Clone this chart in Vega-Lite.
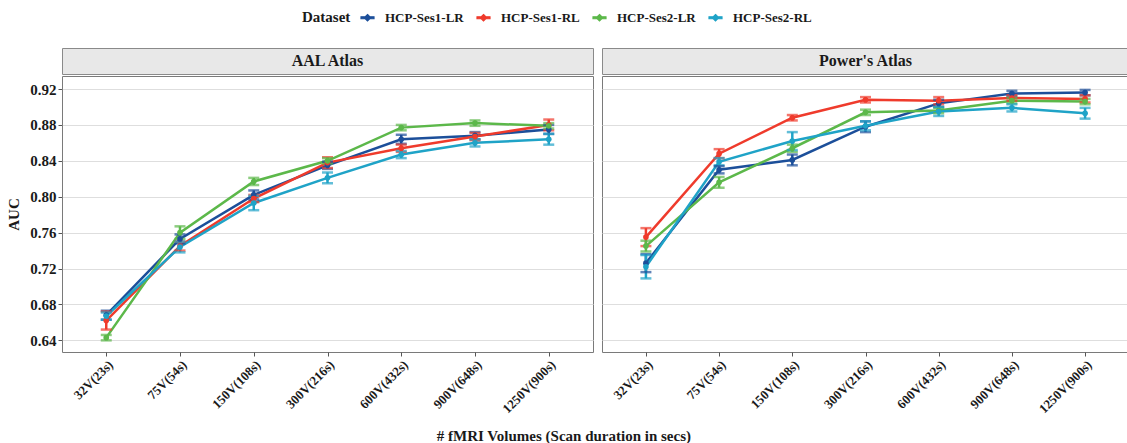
{
  "$schema": "https://vega.github.io/schema/vega-lite/v6.json",
  "background": "white",
  "padding": {"left": 6, "top": 10, "right": 0, "bottom": 0},
  "config": {
    "font": "Liberation Serif",
    "view": {"stroke": null},
    "axis": {
      "labelFont": "Liberation Serif",
      "labelFontWeight": "bold",
      "labelColor": "#1a1a1a",
      "titleFont": "Liberation Serif",
      "titleFontWeight": "bold",
      "titleColor": "#1a1a1a",
      "tickColor": "#555555",
      "tickSize": 4,
      "gridColor": "#dedede",
      "gridWidth": 1.2,
      "domain": false
    },
    "legend": {
      "labelFont": "Liberation Serif",
      "titleFont": "Liberation Serif"
    }
  },
  "datasets": {
    "auc": [
      {"atlas": "AAL Atlas", "volume": "32V(23s)", "dataset": "HCP-Ses1-LR", "auc": 0.668, "lo": 0.663, "hi": 0.673},
      {"atlas": "AAL Atlas", "volume": "32V(23s)", "dataset": "HCP-Ses1-RL", "auc": 0.662, "lo": 0.652, "hi": 0.672},
      {"atlas": "AAL Atlas", "volume": "32V(23s)", "dataset": "HCP-Ses2-LR", "auc": 0.643, "lo": 0.640, "hi": 0.646},
      {"atlas": "AAL Atlas", "volume": "32V(23s)", "dataset": "HCP-Ses2-RL", "auc": 0.667, "lo": 0.663, "hi": 0.671},
      {"atlas": "AAL Atlas", "volume": "75V(54s)", "dataset": "HCP-Ses1-LR", "auc": 0.753, "lo": 0.748, "hi": 0.758},
      {"atlas": "AAL Atlas", "volume": "75V(54s)", "dataset": "HCP-Ses1-RL", "auc": 0.745, "lo": 0.740, "hi": 0.750},
      {"atlas": "AAL Atlas", "volume": "75V(54s)", "dataset": "HCP-Ses2-LR", "auc": 0.760, "lo": 0.753, "hi": 0.767},
      {"atlas": "AAL Atlas", "volume": "75V(54s)", "dataset": "HCP-Ses2-RL", "auc": 0.744, "lo": 0.738, "hi": 0.750},
      {"atlas": "AAL Atlas", "volume": "150V(108s)", "dataset": "HCP-Ses1-LR", "auc": 0.802, "lo": 0.797, "hi": 0.807},
      {"atlas": "AAL Atlas", "volume": "150V(108s)", "dataset": "HCP-Ses1-RL", "auc": 0.798, "lo": 0.794, "hi": 0.802},
      {"atlas": "AAL Atlas", "volume": "150V(108s)", "dataset": "HCP-Ses2-LR", "auc": 0.817, "lo": 0.813, "hi": 0.821},
      {"atlas": "AAL Atlas", "volume": "150V(108s)", "dataset": "HCP-Ses2-RL", "auc": 0.793, "lo": 0.785, "hi": 0.801},
      {"atlas": "AAL Atlas", "volume": "300V(216s)", "dataset": "HCP-Ses1-LR", "auc": 0.835, "lo": 0.831, "hi": 0.839},
      {"atlas": "AAL Atlas", "volume": "300V(216s)", "dataset": "HCP-Ses1-RL", "auc": 0.838, "lo": 0.832, "hi": 0.844},
      {"atlas": "AAL Atlas", "volume": "300V(216s)", "dataset": "HCP-Ses2-LR", "auc": 0.840, "lo": 0.837, "hi": 0.843},
      {"atlas": "AAL Atlas", "volume": "300V(216s)", "dataset": "HCP-Ses2-RL", "auc": 0.821, "lo": 0.815, "hi": 0.827},
      {"atlas": "AAL Atlas", "volume": "600V(432s)", "dataset": "HCP-Ses1-LR", "auc": 0.864, "lo": 0.859, "hi": 0.869},
      {"atlas": "AAL Atlas", "volume": "600V(432s)", "dataset": "HCP-Ses1-RL", "auc": 0.854, "lo": 0.850, "hi": 0.858},
      {"atlas": "AAL Atlas", "volume": "600V(432s)", "dataset": "HCP-Ses2-LR", "auc": 0.877, "lo": 0.874, "hi": 0.880},
      {"atlas": "AAL Atlas", "volume": "600V(432s)", "dataset": "HCP-Ses2-RL", "auc": 0.847, "lo": 0.843, "hi": 0.851},
      {"atlas": "AAL Atlas", "volume": "900V(648s)", "dataset": "HCP-Ses1-LR", "auc": 0.868, "lo": 0.864, "hi": 0.872},
      {"atlas": "AAL Atlas", "volume": "900V(648s)", "dataset": "HCP-Ses1-RL", "auc": 0.867, "lo": 0.863, "hi": 0.871},
      {"atlas": "AAL Atlas", "volume": "900V(648s)", "dataset": "HCP-Ses2-LR", "auc": 0.882, "lo": 0.879, "hi": 0.885},
      {"atlas": "AAL Atlas", "volume": "900V(648s)", "dataset": "HCP-Ses2-RL", "auc": 0.860, "lo": 0.856, "hi": 0.864},
      {"atlas": "AAL Atlas", "volume": "1250V(900s)", "dataset": "HCP-Ses1-LR", "auc": 0.875, "lo": 0.870, "hi": 0.880},
      {"atlas": "AAL Atlas", "volume": "1250V(900s)", "dataset": "HCP-Ses1-RL", "auc": 0.880, "lo": 0.874, "hi": 0.886},
      {"atlas": "AAL Atlas", "volume": "1250V(900s)", "dataset": "HCP-Ses2-LR", "auc": 0.879, "lo": 0.876, "hi": 0.882},
      {"atlas": "AAL Atlas", "volume": "1250V(900s)", "dataset": "HCP-Ses2-RL", "auc": 0.864, "lo": 0.858, "hi": 0.870},
      {"atlas": "Power's Atlas", "volume": "32V(23s)", "dataset": "HCP-Ses1-LR", "auc": 0.726, "lo": 0.716, "hi": 0.736},
      {"atlas": "Power's Atlas", "volume": "32V(23s)", "dataset": "HCP-Ses1-RL", "auc": 0.755, "lo": 0.745, "hi": 0.765},
      {"atlas": "Power's Atlas", "volume": "32V(23s)", "dataset": "HCP-Ses2-LR", "auc": 0.745, "lo": 0.739, "hi": 0.751},
      {"atlas": "Power's Atlas", "volume": "32V(23s)", "dataset": "HCP-Ses2-RL", "auc": 0.722, "lo": 0.709, "hi": 0.735},
      {"atlas": "Power's Atlas", "volume": "75V(54s)", "dataset": "HCP-Ses1-LR", "auc": 0.830, "lo": 0.826, "hi": 0.834},
      {"atlas": "Power's Atlas", "volume": "75V(54s)", "dataset": "HCP-Ses1-RL", "auc": 0.848, "lo": 0.843, "hi": 0.853},
      {"atlas": "Power's Atlas", "volume": "75V(54s)", "dataset": "HCP-Ses2-LR", "auc": 0.816, "lo": 0.810, "hi": 0.822},
      {"atlas": "Power's Atlas", "volume": "75V(54s)", "dataset": "HCP-Ses2-RL", "auc": 0.839, "lo": 0.835, "hi": 0.843},
      {"atlas": "Power's Atlas", "volume": "150V(108s)", "dataset": "HCP-Ses1-LR", "auc": 0.841, "lo": 0.835, "hi": 0.847},
      {"atlas": "Power's Atlas", "volume": "150V(108s)", "dataset": "HCP-Ses1-RL", "auc": 0.888, "lo": 0.885, "hi": 0.891},
      {"atlas": "Power's Atlas", "volume": "150V(108s)", "dataset": "HCP-Ses2-LR", "auc": 0.854, "lo": 0.850, "hi": 0.858},
      {"atlas": "Power's Atlas", "volume": "150V(108s)", "dataset": "HCP-Ses2-RL", "auc": 0.862, "lo": 0.852, "hi": 0.872},
      {"atlas": "Power's Atlas", "volume": "300V(216s)", "dataset": "HCP-Ses1-LR", "auc": 0.878, "lo": 0.872, "hi": 0.884},
      {"atlas": "Power's Atlas", "volume": "300V(216s)", "dataset": "HCP-Ses1-RL", "auc": 0.908, "lo": 0.905, "hi": 0.911},
      {"atlas": "Power's Atlas", "volume": "300V(216s)", "dataset": "HCP-Ses2-LR", "auc": 0.894, "lo": 0.891, "hi": 0.897},
      {"atlas": "Power's Atlas", "volume": "300V(216s)", "dataset": "HCP-Ses2-RL", "auc": 0.879, "lo": 0.874, "hi": 0.884},
      {"atlas": "Power's Atlas", "volume": "600V(432s)", "dataset": "HCP-Ses1-LR", "auc": 0.904, "lo": 0.900, "hi": 0.908},
      {"atlas": "Power's Atlas", "volume": "600V(432s)", "dataset": "HCP-Ses1-RL", "auc": 0.907, "lo": 0.903, "hi": 0.911},
      {"atlas": "Power's Atlas", "volume": "600V(432s)", "dataset": "HCP-Ses2-LR", "auc": 0.896, "lo": 0.893, "hi": 0.899},
      {"atlas": "Power's Atlas", "volume": "600V(432s)", "dataset": "HCP-Ses2-RL", "auc": 0.895, "lo": 0.890, "hi": 0.900},
      {"atlas": "Power's Atlas", "volume": "900V(648s)", "dataset": "HCP-Ses1-LR", "auc": 0.915, "lo": 0.912, "hi": 0.918},
      {"atlas": "Power's Atlas", "volume": "900V(648s)", "dataset": "HCP-Ses1-RL", "auc": 0.910, "lo": 0.907, "hi": 0.913},
      {"atlas": "Power's Atlas", "volume": "900V(648s)", "dataset": "HCP-Ses2-LR", "auc": 0.907, "lo": 0.904, "hi": 0.910},
      {"atlas": "Power's Atlas", "volume": "900V(648s)", "dataset": "HCP-Ses2-RL", "auc": 0.899, "lo": 0.895, "hi": 0.903},
      {"atlas": "Power's Atlas", "volume": "1250V(900s)", "dataset": "HCP-Ses1-LR", "auc": 0.916, "lo": 0.913, "hi": 0.919},
      {"atlas": "Power's Atlas", "volume": "1250V(900s)", "dataset": "HCP-Ses1-RL", "auc": 0.909, "lo": 0.905, "hi": 0.913},
      {"atlas": "Power's Atlas", "volume": "1250V(900s)", "dataset": "HCP-Ses2-LR", "auc": 0.906, "lo": 0.903, "hi": 0.909},
      {"atlas": "Power's Atlas", "volume": "1250V(900s)", "dataset": "HCP-Ses2-RL", "auc": 0.893, "lo": 0.887, "hi": 0.899}
    ]
  },
  "title": {
    "text": "# fMRI Volumes (Scan duration in secs)",
    "orient": "bottom",
    "anchor": "middle",
    "font": "Liberation Serif",
    "fontSize": 15,
    "fontWeight": "bold",
    "color": "#1a1a1a",
    "offset": 13,
    "dx": -4
  },
  "spacing": 7,
  "hconcat": [
    {
      "spacing": 0,
      "vconcat": [
        {
          "width": 531,
          "height": 26,
          "data": {"values": [{"label": "AAL Atlas"}]},
          "view": {"fill": "#e8e8e8", "stroke": "#8a8a8a"},
          "mark": {"type": "text", "fontSize": 16, "fontWeight": "bold", "color": "#1a1a1a", "font": "Liberation Serif"},
          "encoding": {"text": {"field": "label", "type": "nominal"}}
        },
        {
          "width": 531,
          "height": 276,
          "data": {"name": "auc"},
          "transform": [{"filter": "datum.atlas === 'AAL Atlas'"}],
          "view": {"stroke": "#7a7a7a", "fill": "white"},
          "encoding": {
            "x": {
              "field": "volume", "type": "ordinal",
              "sort": ["32V(23s)", "75V(54s)", "150V(108s)", "300V(216s)", "600V(432s)", "900V(648s)", "1250V(900s)"],
              "scale": {"type": "point", "padding": 0.6},
              "axis": {"title": null, "labelAngle": -45, "labelFontSize": 13, "labelPadding": 2, "grid": false}
            },
            "color": {
              "field": "dataset", "type": "nominal",
              "scale": {"domain": ["HCP-Ses1-LR", "HCP-Ses1-RL", "HCP-Ses2-LR", "HCP-Ses2-RL"], "range": ["#1c4f9a", "#ef3b2c", "#5cb84a", "#1fa3c7"]},
              "legend": {
                "title": "Dataset",
                "orient": "none",
                "legendX": 240,
                "legendY": -38,
                "direction": "horizontal",
                "titleOrient": "left",
                "titleFontSize": 15,
                "titleFontWeight": "bold",
                "titleColor": "#1a1a1a",
                "titlePadding": 9,
                "labelFontSize": 13,
                "labelFontWeight": "bold",
                "labelColor": "#1a1a1a",
                "labelOffset": 10,
                "columnPadding": 10,
                "symbolType": "M-1,-0.15L1,-0.15L1,0.15L-1,0.15Z M0,-0.5L0.5,0L0,0.5L-0.5,0Z",
                "symbolSize": 169,
                "symbolStrokeWidth": 1.2,
                "symbolOpacity": 1
              }
            }
          },
          "layer": [
            {
              "mark": {"type": "line", "strokeWidth": 2.5},
              "encoding": {"y": {"field": "auc", "type": "quantitative", "scale": {"domain": [0.627, 0.9345], "nice": false, "zero": false}, "axis": {"title": "AUC", "titleFontSize": 15, "titlePadding": 8, "values": [0.64, 0.68, 0.72, 0.76, 0.8, 0.84, 0.88, 0.92], "format": ".2f", "labelFontSize": 15, "labelPadding": 2}}}
            },
            {
              "mark": {"type": "rule", "strokeWidth": 2.5},
              "encoding": {
                "y": {"field": "lo", "type": "quantitative", "scale": {"domain": [0.627, 0.9345], "nice": false, "zero": false}, "axis": {"title": "AUC", "titleFontSize": 15, "titlePadding": 8, "values": [0.64, 0.68, 0.72, 0.76, 0.8, 0.84, 0.88, 0.92], "format": ".2f", "labelFontSize": 15, "labelPadding": 2}},
                "y2": {"field": "hi"}
              }
            },
            {
              "mark": {"type": "tick", "thickness": 2.5, "size": 11},
              "encoding": {"y": {"field": "lo", "type": "quantitative", "scale": {"domain": [0.627, 0.9345], "nice": false, "zero": false}, "axis": {"title": "AUC", "titleFontSize": 15, "titlePadding": 8, "values": [0.64, 0.68, 0.72, 0.76, 0.8, 0.84, 0.88, 0.92], "format": ".2f", "labelFontSize": 15, "labelPadding": 2}}}
            },
            {
              "mark": {"type": "tick", "thickness": 2.5, "size": 11},
              "encoding": {"y": {"field": "hi", "type": "quantitative", "scale": {"domain": [0.627, 0.9345], "nice": false, "zero": false}, "axis": {"title": "AUC", "titleFontSize": 15, "titlePadding": 8, "values": [0.64, 0.68, 0.72, 0.76, 0.8, 0.84, 0.88, 0.92], "format": ".2f", "labelFontSize": 15, "labelPadding": 2}}}
            },
            {
              "mark": {"type": "point", "filled": true, "size": 32, "opacity": 1},
              "encoding": {
                "y": {"field": "auc", "type": "quantitative", "scale": {"domain": [0.627, 0.9345], "nice": false, "zero": false}, "axis": {"title": "AUC", "titleFontSize": 15, "titlePadding": 8, "values": [0.64, 0.68, 0.72, 0.76, 0.8, 0.84, 0.88, 0.92], "format": ".2f", "labelFontSize": 15, "labelPadding": 2}}
              }
            }
          ]
        }
      ]
    },
    {
      "spacing": 0,
      "vconcat": [
        {
          "width": 527,
          "height": 26,
          "data": {"values": [{"label": "Power's Atlas"}]},
          "view": {"fill": "#e8e8e8", "stroke": "#8a8a8a"},
          "mark": {"type": "text", "fontSize": 16, "fontWeight": "bold", "color": "#1a1a1a", "font": "Liberation Serif"},
          "encoding": {"text": {"field": "label", "type": "nominal"}}
        },
        {
          "width": 527,
          "height": 276,
          "data": {"name": "auc"},
          "transform": [{"filter": "datum.atlas === \"Power's Atlas\""}],
          "view": {"stroke": "#7a7a7a", "fill": "white"},
          "encoding": {
            "x": {
              "field": "volume", "type": "ordinal",
              "sort": ["32V(23s)", "75V(54s)", "150V(108s)", "300V(216s)", "600V(432s)", "900V(648s)", "1250V(900s)"],
              "scale": {"type": "point", "padding": 0.6},
              "axis": {"title": null, "labelAngle": -45, "labelFontSize": 13, "labelPadding": 2, "grid": false}
            },
            "color": {
              "field": "dataset", "type": "nominal",
              "scale": {"domain": ["HCP-Ses1-LR", "HCP-Ses1-RL", "HCP-Ses2-LR", "HCP-Ses2-RL"], "range": ["#1c4f9a", "#ef3b2c", "#5cb84a", "#1fa3c7"]},
              "legend": {
                "title": "Dataset",
                "orient": "none",
                "legendX": 240,
                "legendY": -38,
                "direction": "horizontal",
                "titleOrient": "left",
                "titleFontSize": 15,
                "titleFontWeight": "bold",
                "titleColor": "#1a1a1a",
                "titlePadding": 9,
                "labelFontSize": 13,
                "labelFontWeight": "bold",
                "labelColor": "#1a1a1a",
                "labelOffset": 10,
                "columnPadding": 10,
                "symbolType": "M-1,-0.15L1,-0.15L1,0.15L-1,0.15Z M0,-0.5L0.5,0L0,0.5L-0.5,0Z",
                "symbolSize": 169,
                "symbolStrokeWidth": 1.2,
                "symbolOpacity": 1
              }
            }
          },
          "layer": [
            {
              "mark": {"type": "line", "strokeWidth": 2.5},
              "encoding": {"y": {"field": "auc", "type": "quantitative", "scale": {"domain": [0.627, 0.9345], "nice": false, "zero": false}, "axis": {"title": null, "labels": false, "ticks": false, "values": [0.64, 0.68, 0.72, 0.76, 0.8, 0.84, 0.88, 0.92]}}}
            },
            {
              "mark": {"type": "rule", "strokeWidth": 2.5},
              "encoding": {
                "y": {"field": "lo", "type": "quantitative", "scale": {"domain": [0.627, 0.9345], "nice": false, "zero": false}, "axis": {"title": null, "labels": false, "ticks": false, "values": [0.64, 0.68, 0.72, 0.76, 0.8, 0.84, 0.88, 0.92]}},
                "y2": {"field": "hi"}
              }
            },
            {
              "mark": {"type": "tick", "thickness": 2.5, "size": 11},
              "encoding": {"y": {"field": "lo", "type": "quantitative", "scale": {"domain": [0.627, 0.9345], "nice": false, "zero": false}, "axis": {"title": null, "labels": false, "ticks": false, "values": [0.64, 0.68, 0.72, 0.76, 0.8, 0.84, 0.88, 0.92]}}}
            },
            {
              "mark": {"type": "tick", "thickness": 2.5, "size": 11},
              "encoding": {"y": {"field": "hi", "type": "quantitative", "scale": {"domain": [0.627, 0.9345], "nice": false, "zero": false}, "axis": {"title": null, "labels": false, "ticks": false, "values": [0.64, 0.68, 0.72, 0.76, 0.8, 0.84, 0.88, 0.92]}}}
            },
            {
              "mark": {"type": "point", "filled": true, "size": 32, "opacity": 1},
              "encoding": {
                "y": {"field": "auc", "type": "quantitative", "scale": {"domain": [0.627, 0.9345], "nice": false, "zero": false}, "axis": {"title": null, "labels": false, "ticks": false, "values": [0.64, 0.68, 0.72, 0.76, 0.8, 0.84, 0.88, 0.92]}}
              }
            }
          ]
        }
      ]
    }
  ]
}
